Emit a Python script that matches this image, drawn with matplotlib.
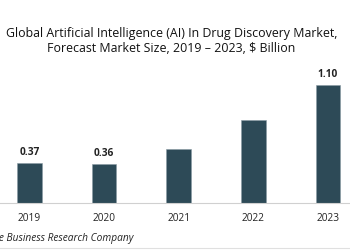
import matplotlib.pyplot as plt

years = ["2019", "2020", "2021", "2022", "2023"]
values = [0.37, 0.36, 0.50, 0.77, 1.10]
labels = ["0.37", "0.36", "", "", "1.10"]

plt.rcParams['font.family'] = ['Open Sans', 'DejaVu Sans']

fig = plt.figure(figsize=(3.5, 2.5), dpi=100)
ax = fig.add_axes([0, 0.188, 1, 0.56])

x = range(len(years))
bars = ax.bar(x, values, width=0.33, color="#2D4A57", edgecolor="#8a9aa3", linewidth=0.4)
for b, lab in zip(bars, labels):
    if lab:
        ax.text(b.get_x() + b.get_width() / 2, b.get_height() + 0.05, lab,
                ha="center", va="bottom", fontsize=7.3, fontweight="bold", color="#222222")

ax.set_xlim(-0.395, 4.295)
ax.set_ylim(0, 1.305)
ax.set_yticks([])
ax.set_xticks(list(x))
ax.set_xticklabels(years, fontsize=7.3, color="#222222")
ax.tick_params(axis="x", length=0, pad=7)
for s in ["top", "right", "left"]:
    ax.spines[s].set_visible(False)
ax.spines["bottom"].set_color("#d0d0d0")
ax.spines["bottom"].set_linewidth(0.8)

fig.text(0.49, 0.868, "Global Artificial Intelligence (AI) In Drug Discovery Market,",
         ha="center", va="center", fontsize=8.9, color="#111111")
fig.text(0.49, 0.806, "Forecast Market Size, 2019 \u2013 2023, $ Billion",
         ha="center", va="center", fontsize=8.9, color="#111111")
fig.text(-0.035, 0.048, "The Business Research Company", ha="left", va="center",
         fontsize=7.3, style="italic", color="#222222")
fig.add_artist(plt.Line2D([0, 1], [0.008, 0.008], color="#e0e0e0", lw=0.8))

fig.savefig("out.png", dpi=100)
